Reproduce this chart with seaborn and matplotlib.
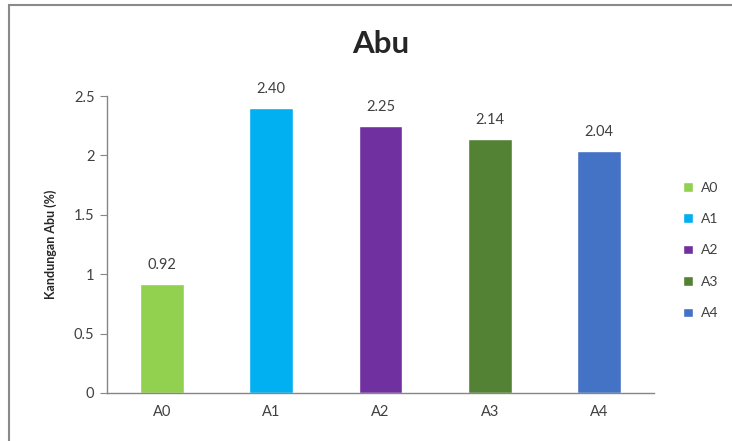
import numpy as np
import pandas as pd
import matplotlib
matplotlib.use("Agg")
import matplotlib.pyplot as plt
from matplotlib.patches import Rectangle
import seaborn as sns

categories = ["A0", "A1", "A2", "A3", "A4"]
values = [0.92, 2.40, 2.25, 2.14, 2.04]
colors = ["#92D050", "#00B0F0", "#7030A0", "#548235", "#4472C4"]
yticks = [0, 0.5, 1, 1.5, 2, 2.5]
ytick_labels = ["0", "0.5", "1", "1.5", "2", "2.5"]

sns.set_style("white")
plt.rcParams["font.family"] = ["Lato", "DejaVu Sans"]

df = pd.DataFrame({"label": categories, "value": values})

fig = plt.figure(figsize=(7.32, 4.41), dpi=100)
ax = fig.add_axes([107 / 732, 48 / 441, (654 - 107) / 732, (393 - 96) / 441])

sns.barplot(data=df, x="label", y="value", hue="label", palette=colors,
            order=categories, hue_order=categories, dodge=False, width=0.4,
            saturation=1, legend=True, ax=ax)

ax.set_xlim(-0.5, 4.5)
ax.set_ylim(0, 2.5)
ax.set_yticks(yticks)
ax.set_yticklabels(ytick_labels, fontsize=10.5, color="#404040")
ax.set_xticks(range(len(categories)))
ax.set_xticklabels(categories, fontsize=10.5, color="#404040")
ax.set_xticks(np.arange(-0.5, 5, 1), minor=True)
ax.tick_params(axis="x", which="major", length=0, pad=9)
ax.tick_params(axis="x", which="minor", length=5, color="#868686", direction="out")
ax.tick_params(axis="y", length=5, color="#868686", direction="out", left=True, pad=4)

for side in ["top", "right"]:
    ax.spines[side].set_visible(False)
for side in ["left", "bottom"]:
    ax.spines[side].set_color("#868686")
    ax.spines[side].set_linewidth(1)

for i, v in enumerate(values):
    ax.text(i, v + 0.1, f"{v:.2f}", ha="center", va="bottom", fontsize=10.5, color="#404040")

ax.set_xlabel("")
ax.set_ylabel("Kandungan Abu (%)", fontsize=9, fontweight="bold", labelpad=12)
ax.set_title("Abu", fontsize=22.5, fontweight="bold", pad=31)

handles, labels = ax.get_legend_handles_labels()
ax.legend(handles, labels, loc="center left", bbox_to_anchor=(1.03, 0.48),
          frameon=False, fontsize=10, handlelength=0.7, handleheight=0.7,
          labelspacing=1.4, handletextpad=0.6, labelcolor="#404040")

fig.patches.append(Rectangle((9 / 732, -0.1), 1.2, 0.1 + (441 - 5) / 441,
                             transform=fig.transFigure, fill=False,
                             edgecolor="#8a8a8a", linewidth=1.5))

fig.savefig("out.png", dpi=100)
